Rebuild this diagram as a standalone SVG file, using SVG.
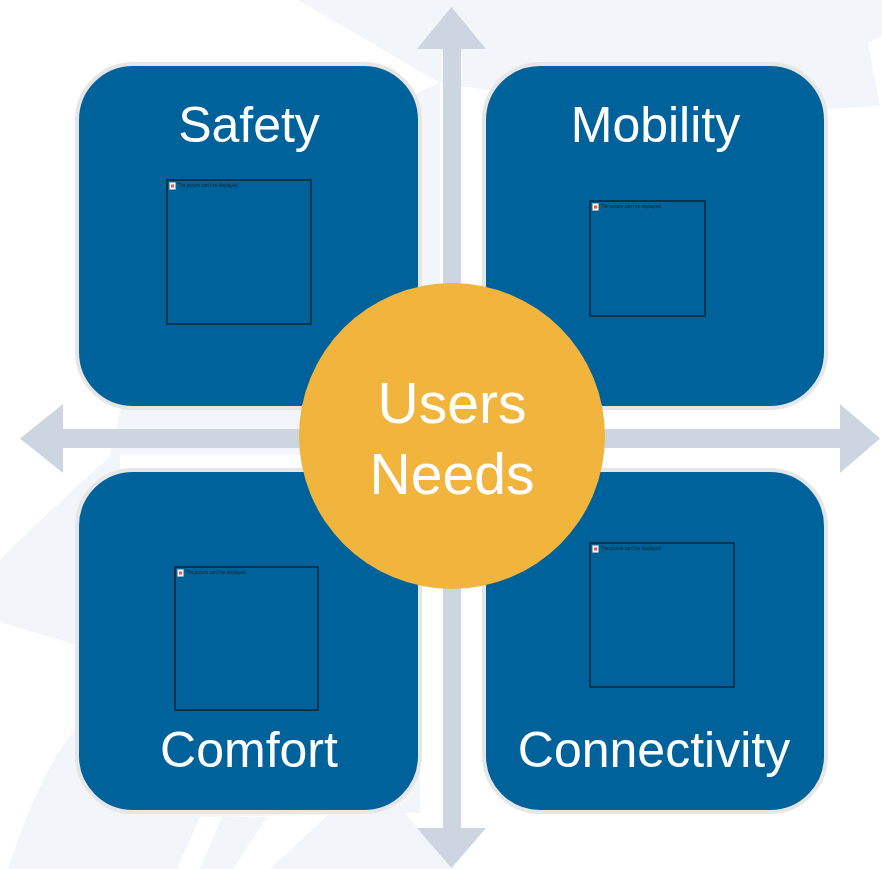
<svg xmlns="http://www.w3.org/2000/svg" width="882" height="869" viewBox="0 0 882 869">
<style>
.bg{fill:#f2f5f9}
.box{fill:#00629b;stroke:#e6e6e6;stroke-width:4}
.title{font-family:"Liberation Sans",Arial,sans-serif;font-size:50px;fill:#ffffff;text-anchor:middle}
.hub{font-family:"Liberation Sans",Arial,sans-serif;font-size:57px;fill:#ffffff;text-anchor:middle}
.frame{fill:none;stroke:#0d1b2a;stroke-width:1.3}
.ph{font-family:"Liberation Sans",Arial,sans-serif;font-size:4.5px;fill:#1a2230}
.arrow{fill:#cdd5e0}
</style>
<defs>
<g id="icon"><rect x="0" y="0" width="6" height="7" fill="#f4f4f4" stroke="#b0b0b0" stroke-width="0.5"/><rect x="1.5" y="2" width="3" height="3" fill="#e8584f"/></g>
</defs>
<rect width="882" height="869" fill="#ffffff"/>
<g id="background">
<path class="bg" d="M298,0 L882,0 L882,36 L868,43 L880,106 Q760,114 640,112 L440,83 Z"/>
<path class="bg" d="M440,83 L400,100 L250,200 L140,330 L110,455 L440,455 Z"/>
<path class="bg" d="M120,448 Q60,500 0,560 L0,622 L77,645 L120,600 Z"/>
<path class="bg" d="M8,869 Q40,770 77,727 L120,470 L420,470 L420,813 L200,817 L177,869 Z"/>
<path class="bg" d="M222,817 L267,817 L233,869 L200,869 Z"/>
<path class="bg" d="M270,869 L330,813 L405,813 L453,869 Z"/>
</g>
<g id="connectors">
<path class="arrow" d="M443,49 L417,49 L451.5,7 L486,49 L461,49 L461,828 L486,828 L451.5,868 L417,828 L443,828 Z"/>
<path class="arrow" d="M63,429 L63,404 L20,438.5 L63,473 L63,448 L840,448 L840,473 L880,438.5 L840,404 L840,429 Z"/>
</g>
<g id="safety">
<rect class="box" x="77" y="64" width="343" height="344" rx="56"/>
<text class="title" x="249" y="142">Safety</text>
<rect class="frame" x="167" y="180" width="144" height="144"/>
<use href="#icon" x="169.5" y="182.5"/>
<text class="ph" x="178" y="187">The picture can't be displayed.</text>
</g>
<g id="mobility">
<rect class="box" x="484" y="64" width="342" height="344" rx="56"/>
<text class="title" x="655.5" y="142">Mobility</text>
<rect class="frame" x="590" y="201" width="115" height="115"/>
<use href="#icon" x="592.5" y="203.5"/>
<text class="ph" x="601" y="208">The picture can't be displayed.</text>
</g>
<g id="comfort">
<rect class="box" x="77" y="470" width="343" height="342" rx="56"/>
<text class="title" x="249" y="767">Comfort</text>
<rect class="frame" x="175" y="567" width="143" height="143"/>
<use href="#icon" x="177.5" y="569.5"/>
<text class="ph" x="186" y="574">The picture can't be displayed.</text>
</g>
<g id="connectivity">
<rect class="box" x="484" y="470" width="342" height="342" rx="56"/>
<text class="title" x="654" y="767">Connectivity</text>
<rect class="frame" x="590" y="543" width="144" height="144"/>
<use href="#icon" x="592.5" y="545.5"/>
<text class="ph" x="601" y="550">The picture can't be displayed.</text>
</g>
<g id="users-needs">
<circle cx="452" cy="436" r="153" fill="#f1b43c"/>
<text class="hub" x="452" y="423">Users</text>
<text class="hub" x="452" y="494">Needs</text>
</g>
</svg>
